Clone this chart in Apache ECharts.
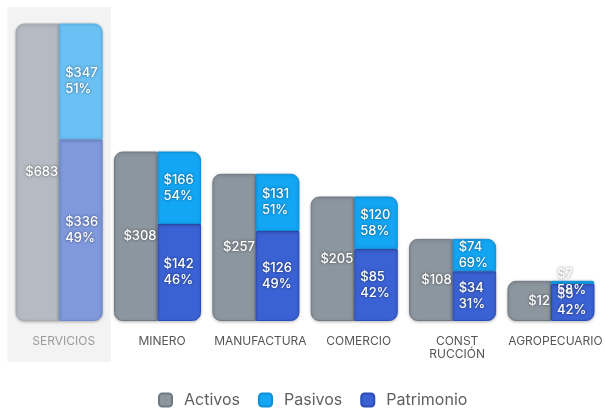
<!DOCTYPE html>
<html>
<head>
<meta charset="utf-8">
<script src="https://cdn.jsdelivr.net/npm/echarts@6/dist/echarts.min.js"></script>
<style>
  html, body { margin: 0; padding: 0; background: #ffffff; }
  #chart { width: 605px; height: 411px; }
</style>
</head>
<body>
<div id="chart"></div>
<script>
// Balance por sector económico (miles de millones)
const sectores = ['SERVICIOS', 'MINERO', 'MANUFACTURA', 'COMERCIO', 'CONST\nRUCCIÓN', 'AGROPECUARIO'];
const activos = [683, 308, 257, 205, 108, 12];
const pasivos = [347, 166, 131, 120, 74, 7];
const patrimonio = [336, 142, 126, 85, 34, 5];
const pasivosPct = [51, 54, 51, 58, 69, 58];
const patrimonioPct = [49, 46, 49, 42, 31, 42];

// Sector resaltado (índice) y paletas normal / resaltada
const resaltado = 0;
const colores = {
  activos:    { base: '#8c969f', suave: '#b4bbc2', borde: '#6f7982', bordeSuave: '#a5adb5' },
  pasivos:    { base: '#13a6f4', suave: '#6bc1f4', borde: '#0d8fd8', bordeSuave: '#5cb3e8' },
  patrimonio: { base: '#3b62d4', suave: '#7f99dc', borde: '#2a4cb8', bordeSuave: '#7089cf' }
};

const fuente = 'Inter, "Noto Sans", sans-serif';
const anchoGrid = 599;

const etiquetaBase = {
  show: true,
  color: '#ffffff',
  fontFamily: fuente,
  fontSize: 13,
  fontWeight: 500,
  lineHeight: 16,
  textShadowColor: 'rgba(0,0,0,0.55)',
  textShadowBlur: 3
};

function serieDatos(valores, pal) {
  return valores.map((v, i) => i === resaltado
    ? { value: v, itemStyle: { color: pal.suave, borderColor: pal.bordeSuave } }
    : v);
}

const chart = echarts.init(document.getElementById('chart'), null, { renderer: 'canvas' });

chart.setOption({
  animation: false,
  backgroundColor: '#ffffff',
  grid: { left: 10, top: 24, width: anchoGrid, height: 297, containLabel: false },
  legend: {
    data: ['Activos', 'Pasivos', 'Patrimonio'],
    top: 387,
    left: 153,
    icon: 'roundRect',
    itemWidth: 13,
    itemHeight: 13,
    itemGap: 18,
    textStyle: { color: '#5f5f5f', fontSize: 16, fontFamily: fuente, padding: [0, 0, 0, 7] }
  },
  xAxis: {
    type: 'category',
    data: sectores.map((s, i) => i === resaltado ? { value: s, textStyle: { color: '#9a9a9a' } } : s),
    axisLine: { show: false },
    axisTick: { show: false },
    axisLabel: {
      color: '#555555', fontSize: 12, fontFamily: fuente, margin: 14, lineHeight: 13,
      interval: 0, padding: [0, 0, 0, 9]
    }
  },
  yAxis: {
    type: 'value',
    min: -80,
    max: 600,
    startValue: -80,
    show: false,
    splitLine: { show: false }
  },
  series: [
    {
      name: 'Activos',
      type: 'bar',
      barWidth: 43.5,
      barGap: '0%',
      data: serieDatos(activos, colores.activos),
      itemStyle: {
        color: colores.activos.base,
        borderColor: colores.activos.borde,
        borderWidth: 1,
        borderRadius: [8, 0, 0, 8],
        shadowColor: 'rgba(0,0,0,0.25)',
        shadowBlur: 3,
        shadowOffsetY: 1
      },
      label: Object.assign({}, etiquetaBase, {
        position: 'insideRight',
        distance: 1,
        formatter: p => '$' + p.value
      })
    },
    {
      name: 'Patrimonio',
      type: 'bar',
      stack: 'balance',
      barWidth: 43.5,
      data: serieDatos(patrimonio, colores.patrimonio),
      itemStyle: {
        color: colores.patrimonio.base,
        borderColor: colores.patrimonio.borde,
        borderWidth: 1,
        borderRadius: [0, 0, 8, 0],
        shadowColor: 'rgba(0,0,0,0.25)',
        shadowBlur: 3,
        shadowOffsetY: 1
      },
      label: Object.assign({}, etiquetaBase, {
        position: 'insideLeft',
        distance: 6,
        align: 'left',
        formatter: p => '$' + p.value + '\n' + patrimonioPct[p.dataIndex] + '%'
      })
    },
    {
      name: 'Pasivos',
      type: 'bar',
      stack: 'balance',
      barWidth: 43.5,
      data: serieDatos(pasivos, colores.pasivos),
      itemStyle: {
        color: colores.pasivos.base,
        borderColor: colores.pasivos.borde,
        borderWidth: 1,
        borderRadius: [0, 8, 0, 0],
        shadowColor: 'rgba(0,0,0,0.2)',
        shadowBlur: 3
      },
      label: Object.assign({}, etiquetaBase, {
        position: 'insideLeft',
        distance: 6,
        align: 'left',
        formatter: p => '$' + p.value + '\n' + pasivosPct[p.dataIndex] + '%'
      })
    }
  ],
  color: [colores.activos.base, colores.patrimonio.base, colores.pasivos.base]
});

// Franja de fondo detrás del sector resaltado, centrada en su categoría
const cx = chart.convertToPixel({ xAxisIndex: 0 }, resaltado);
const banda = anchoGrid / sectores.length * 1.035;
chart.setOption({
  graphic: [{
    type: 'rect',
    z: -10,
    silent: true,
    shape: { x: cx - banda / 2, y: 7, width: banda, height: 355 },
    style: { fill: '#f3f3f3' }
  }]
});
</script>
</body>
</html>
